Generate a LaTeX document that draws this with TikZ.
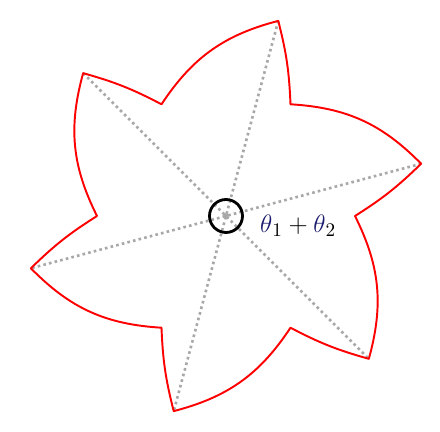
\documentclass[tikz,border=0pt]{standalone}
\usepackage{xcolor}
\usepackage{tikz}
\usetikzlibrary{positioning,calc}
\definecolor{SRed}{HTML}{FF0000}
\definecolor{SGray}{HTML}{A8A8A8}
\definecolor{SNavy}{HTML}{1C1C6E}

\begin{document}
\begin{tikzpicture}[x=0.02cm, y=0.02cm]
  \useasboundingbox (-226,-216) rectangle (214,216);

  % tips and inner corners of the star
  \foreach \k in {0,...,5} {
    \coordinate (t\k) at ({15+60*\k}:202);
    \coordinate (i\k) at ({60*\k}:129);
  }

  \foreach \k/\o in {0/3,1/4,2/5}
    \draw[draw=SGray, line width=1.5pt, dash pattern=on 1.5pt off 1.8pt] (t\k) -- (t\o);

  \draw[draw=SRed, line width=1.1pt, line join=round]
    (i0) \foreach \k/\n in {0/1,1/2,2/3,3/4,4/5,5/0} {
      to[bend right=6] (t\k) to[bend right=21] (i\n)
    } -- cycle;

  \fill[SGray] (0,0) circle (2.6);
  \node[draw=black, line width=1.6pt, circle, minimum size=0.66cm, inner sep=0pt] (origin) at (0,0) {};
  \node[anchor=west, font=\fontsize{15}{18}\selectfont] (angle) at (28,-10)
    {$\textcolor{SNavy}{\theta}_1 + \textcolor{SNavy}{\theta}_2$};
\end{tikzpicture}
\end{document}
